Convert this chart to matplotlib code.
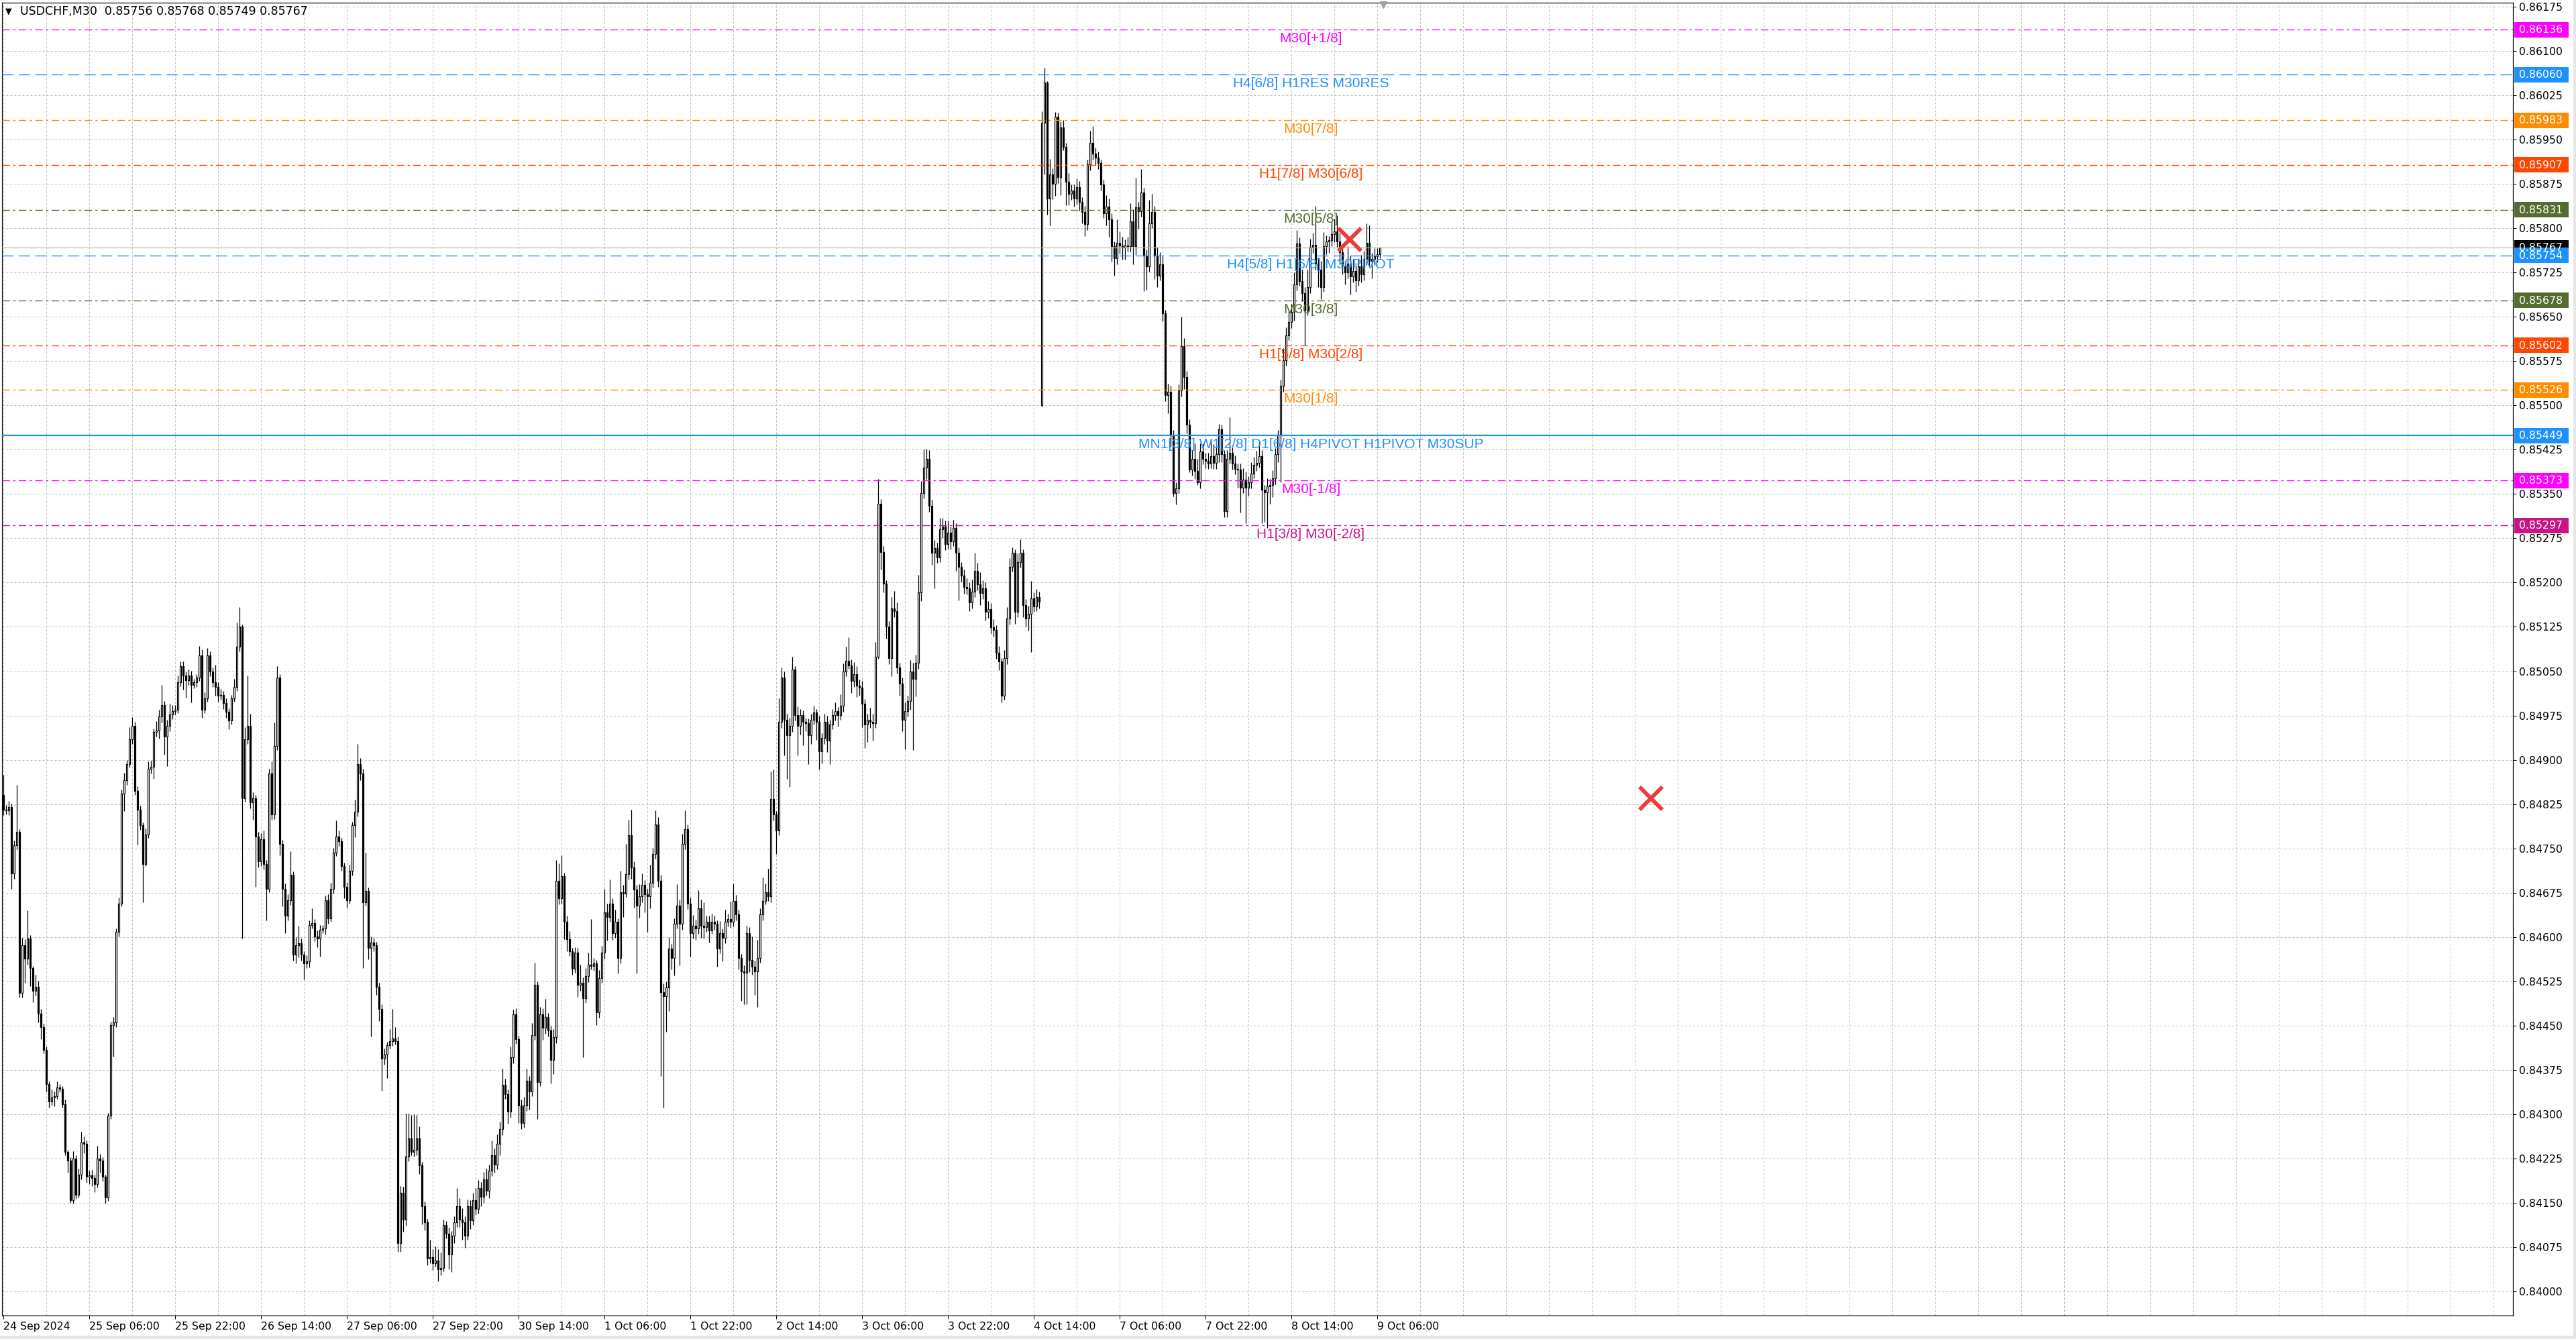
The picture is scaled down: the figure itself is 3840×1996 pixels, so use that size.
import numpy as np
import matplotlib
matplotlib.use('Agg')
import matplotlib.pyplot as plt
from matplotlib.patches import Rectangle
from matplotlib import transforms

W, H = 3840, 1996
DPI = 100
PX = 72 / DPI          # one pixel in points
PRICE_PX = 1 / 88046   # price change per pixel of height

title = 'USDCHF,M30  0.85756 0.85768 0.85749 0.85767'

# M30 candles, prices in points (1e-5); open = previous close unless a gap
first_open = 84840
gap_bars = [387]
gap_opens = [85500]
closes = [
    84816, 84814, 84820, 84708, 84755, 84778, 84505, 84586, 84563, 84597,
    84547, 84509, 84516, 84470, 84447, 84409, 84351, 84321, 84328, 84330,
    84345, 84343, 84317, 84236, 84221, 84155, 84225, 84163, 84198, 84252,
    84250, 84194, 84196, 84192, 84182, 84225, 84221, 84194, 84159, 84298,
    84451, 84455, 84609, 84657, 84843, 84866, 84893, 84935, 84958, 84847,
    84816, 84789, 84724, 84774, 84885, 84888, 84947, 84950, 84973, 84993,
    84939, 84958, 84977, 84983, 84985, 85031, 85058, 85043, 85035, 85043,
    85027, 85031, 85039, 85077, 84985, 85004, 85077, 85050, 85031, 85023,
    85008, 85010, 84996, 84981, 84966, 85004, 85023, 85092, 85125, 84835,
    84935, 84958, 84828, 84835, 84770, 84728, 84766, 84724, 84682, 84877,
    84808, 84923, 85039, 84758, 84682, 84636, 84662, 84705, 84570, 84586,
    84589, 84570, 84555, 84559, 84620, 84624, 84601, 84597, 84612, 84614,
    84662, 84632, 84682, 84743, 84770, 84762, 84720, 84685, 84662, 84712,
    84789, 84812, 84893, 84877, 84659, 84678, 84582, 84591, 84586, 84516,
    84478, 84394, 84401, 84417, 84424, 84428, 84424, 84082, 84167, 84121,
    84228, 84259, 84236, 84240, 84259, 84213, 84144, 84117, 84056, 84058,
    84048, 84052, 84037, 84040, 84113, 84098, 84063, 84094, 84117, 84144,
    84121, 84117, 84094, 84144, 84120, 84155, 84140, 84175, 84160, 84190,
    84170, 84205, 84230, 84215, 84250, 84275, 84350, 84334, 84304, 84396,
    84469, 84427, 84315, 84285, 84315, 84357, 84338, 84434, 84519, 84354,
    84469, 84446, 84465, 84442, 84392, 84430, 84695, 84665, 84703, 84626,
    84596, 84576, 84546, 84573, 84519, 84523, 84496, 84534, 84553, 84551,
    84555, 84473, 84530, 84573, 84642, 84634, 84657, 84607, 84626, 84565,
    84676, 84674, 84707, 84772, 84718, 84680, 84653, 84669, 84688, 84672,
    84669, 84692, 84741, 84791, 84695, 84507, 84500, 84515, 84580, 84565,
    84622, 84653, 84622, 84757, 84782, 84657, 84607, 84619, 84615, 84649,
    84619, 84617, 84626, 84611, 84626, 84622, 84580, 84607, 84599, 84626,
    84630, 84626, 84661, 84638, 84565, 84542, 84540, 84607, 84561, 84550,
    84542, 84565, 84638, 84661, 84676, 84669, 84834, 84807, 84780, 84964,
    85039, 84968, 84941, 84957, 85053, 84976, 84957, 84976, 84964, 84962,
    84941, 84968, 84980, 84964, 84914, 84937, 84964, 84933, 84960, 84976,
    84983, 84976, 84991, 85049, 85068, 85060, 85033, 85045, 85026, 85022,
    84995, 84960, 84968, 84964, 84962, 85075, 85333, 85252, 85198, 85125,
    85072, 85156, 85152, 85056, 85029, 84968, 84983, 84999, 85049, 85037,
    85064, 85183, 85352, 85395, 85410, 85330, 85250, 85258, 85243, 85290,
    85295, 85265, 85285, 85270, 85292, 85250, 85227, 85212, 85193, 85190,
    85166, 85185, 85220, 85197, 85182, 85190, 85150, 85155, 85124, 85120,
    85081, 85066, 85008, 85072, 85139, 85227, 85250, 85150, 85235, 85250,
    85162, 85139, 85147, 85173, 85160, 85175, 85168, 85978, 86047, 85850,
    85891, 85875, 85989, 85886, 85971, 85938, 85879, 85858, 85864, 85850,
    85870, 85844, 85828, 85807, 85908, 85945, 85926, 85920, 85910, 85874,
    85825, 85836, 85815, 85769, 85749, 85775, 85771, 85767, 85771, 85770,
    85812, 85769, 85835, 85829, 85860, 85754, 85736, 85808, 85828, 85754,
    85720, 85739, 85656, 85517, 85523, 85450, 85352, 85360, 85525, 85600,
    85548, 85467, 85391, 85410, 85389, 85370, 85422, 85410, 85406, 85402,
    85414, 85403, 85418, 85459, 85418, 85321, 85410, 85420, 85401, 85393,
    85391, 85361, 85374, 85361, 85370, 85384, 85399, 85403, 85414, 85357,
    85353, 85363, 85365, 85376, 85418, 85450, 85533, 85577, 85618, 85641,
    85658, 85705, 85774, 85710, 85690, 85660, 85700, 85768, 85772, 85740,
    85730, 85700, 85770, 85778, 85780, 85790, 85795, 85778, 85759, 85736,
    85725, 85740, 85718, 85728, 85712, 85735, 85722, 85748, 85775, 85745,
    85748, 85752, 85756, 85767,
]
# wick lengths above / below the body, in points
wick_up = [
    34, 8, 10, 6, 8, 79, 4, 12, 10, 48,
    6, 4, 20, 10, 8, 6, 6, 5, 14, 8,
    10, 6, 4, 8, 4, 6, 12, 6, 10, 18,
    10, 6, 8, 10, 6, 22, 8, 6, 4, 4,
    6, 10, 6, 10, 6, 12, 6, 20, 14, 6,
    8, 6, 5, 10, 12, 10, 6, 15, 12, 34,
    6, 10, 18, 10, 8, 12, 9, 8, 6, 10,
    8, 6, 6, 16, 10, 10, 12, 6, 6, 30,
    8, 10, 6, 8, 6, 6, 14, 40, 33, 4,
    20, 85, 20, 10, 6, 8, 10, 14, 6, 8,
    20, 40, 19, 6, 6, 8, 10, 40, 6, 14,
    30, 8, 6, 10, 8, 25, 6, 10, 8, 6,
    8, 10, 10, 8, 27, 10, 6, 6, 8, 10,
    6, 20, 34, 10, 8, 65, 6, 10, 8, 6,
    6, 8, 10, 6, 20, 50, 20, 8, 11, 10,
    73, 42, 40, 60, 40, 20, 6, 8, 6, 30,
    14, 24, 20, 26, 8, 6, 10, 8, 10, 31,
    14, 20, 10, 12, 10, 12, 20, 14, 10, 12,
    18, 10, 26, 12, 16, 12, 27, 10, 8, 18,
    8, 10, 6, 10, 14, 20, 8, 20, 38, 6,
    12, 10, 30, 6, 8, 14, 35, 30, 35, 6,
    10, 14, 6, 10, 8, 30, 8, 14, 20, 77,
    10, 6, 14, 12, 40, 14, 40, 8, 20, 6,
    36, 12, 50, 27, 44, 10, 8, 20, 20, 8,
    10, 30, 10, 23, 12, 10, 14, 10, 20, 8,
    10, 36, 10, 18, 32, 8, 10, 18, 10, 30,
    14, 40, 10, 10, 14, 10, 6, 20, 8, 20,
    10, 30, 30, 10, 8, 6, 10, 12, 10, 40,
    10, 30, 10, 40, 14, 40, 46, 50, 6, 40,
    17, 10, 10, 14, 22, 6, 14, 10, 8, 6,
    8, 10, 12, 6, 10, 8, 14, 10, 8, 10,
    14, 6, 20, 14, 24, 39, 10, 20, 14, 10,
    12, 8, 10, 20, 14, 24, 42, 8, 10, 6,
    10, 20, 30, 14, 8, 10, 14, 10, 20, 15,
    14, 30, 20, 30, 17, 14, 10, 14, 10, 20,
    14, 10, 20, 10, 14, 8, 10, 8, 10, 14,
    10, 20, 30, 14, 20, 14, 10, 14, 10, 14,
    8, 12, 6, 14, 20, 14, 10, 6, 14, 23,
    6, 10, 14, 30, 10, 14, 10, 20, 25, 2,
    26, 10, 8, 6, 10, 12, 6, 14, 10, 10,
    14, 10, 8, 10, 8, 20, 28, 10, 10, 6,
    8, 20, 14, 10, 8, 40, 20, 14, 10, 14,
    30, 20, 50, 10, 40, 8, 10, 40, 30, 10,
    14, 20, 14, 6, 14, 10, 8, 10, 10, 50,
    14, 10, 10, 14, 26, 20, 14, 14, 10, 14,
    30, 20, 14, 10, 8, 6, 14, 60, 10, 14,
    8, 10, 20, 14, 10, 20, 14, 20, 24, 10,
    8, 14, 10, 14, 10, 8, 10, 20, 14, 20,
    14, 20, 23, 10, 20, 10, 30, 14, 20, 66,
    10, 14, 23, 10, 6, 20, 21, 27, 14, 10,
    8, 30, 14, 20, 10, 14, 20, 14, 33, 30,
    10, 14, 10, 1,
]
wick_dn = [
    10, 6, 8, 26, 10, 6, 8, 8, 40, 10,
    30, 20, 8, 14, 20, 6, 12, 10, 6, 14,
    4, 6, 6, 6, 20, 5, 6, 6, 4, 8,
    16, 10, 12, 14, 14, 6, 20, 8, 10, 6,
    6, 54, 8, 8, 5, 30, 8, 6, 8, 6,
    60, 8, 65, 4, 6, 8, 20, 8, 14, 10,
    30, 50, 10, 8, 6, 6, 6, 24, 30, 8,
    30, 6, 8, 6, 14, 6, 6, 8, 8, 14,
    10, 6, 10, 10, 14, 6, 6, 6, 8, 238,
    6, 8, 10, 30, 85, 10, 8, 10, 54, 6,
    10, 8, 6, 20, 30, 30, 8, 8, 10, 15,
    20, 10, 27, 8, 10, 6, 8, 14, 30, 6,
    10, 10, 6, 8, 6, 8, 8, 20, 12, 6,
    8, 20, 8, 12, 112, 6, 20, 150, 10, 14,
    20, 54, 10, 40, 6, 8, 6, 15, 15, 20,
    10, 8, 6, 8, 10, 14, 30, 14, 12, 8,
    12, 6, 20, 10, 6, 8, 25, 30, 12, 8,
    12, 30, 20, 6, 14, 8, 10, 8, 16, 10,
    8, 12, 10, 14, 8, 20, 10, 8, 20, 10,
    10, 8, 30, 10, 8, 10, 30, 8, 8, 62,
    6, 20, 10, 10, 40, 24, 10, 10, 8, 30,
    20, 8, 10, 6, 20, 10, 100, 8, 10, 6,
    8, 22, 10, 8, 10, 40, 8, 12, 8, 27,
    10, 40, 6, 10, 20, 30, 115, 20, 10, 30,
    60, 20, 8, 8, 10, 142, 189, 60, 40, 20,
    30, 8, 70, 10, 8, 10, 40, 10, 20, 10,
    20, 20, 8, 20, 6, 10, 30, 8, 40, 10,
    8, 10, 8, 10, 20, 50, 54, 54, 20, 14,
    40, 60, 8, 10, 6, 8, 10, 10, 40, 8,
    10, 60, 73, 87, 10, 10, 50, 14, 40, 14,
    48, 14, 8, 30, 30, 20, 10, 20, 40, 8,
    10, 20, 8, 10, 8, 6, 20, 10, 20, 14,
    40, 40, 30, 10, 30, 8, 4, 30, 14, 20,
    10, 30, 10, 10, 20, 20, 50, 10, 14, 120,
    30, 10, 14, 10, 20, 10, 20, 60, 10, 8,
    14, 10, 8, 14, 8, 30, 57, 10, 12, 10,
    14, 10, 10, 10, 20, 10, 14, 10, 10, 12,
    10, 14, 11, 6, 10, 10, 8, 20, 8, 10,
    20, 14, 20, 65, 10, 8, 12, 2, 87, 27,
    45, 26, 20, 10, 30, 6, 40, 19, 10, 14,
    10, 14, 20, 21, 10, 10, 10, 14, 10, 10,
    8, 20, 30, 26, 30, 10, 14, 20, 20, 10,
    10, 30, 14, 30, 10, 60, 40, 10, 8, 40,
    20, 8, 14, 10, 30, 20, 6, 20, 8, 10,
    20, 14, 4, 10, 14, 5, 10, 10, 12, 10,
    8, 10, 10, 14, 14, 10, 10, 8, 10, 10,
    30, 42, 10, 61, 14, 10, 8, 10, 8, 57,
    50, 60, 30, 20, 10, 14, 80, 10, 10, 8,
    10, 14, 10, 8, 14, 57, 8, 10, 10, 10,
    30, 20, 8, 14, 20, 10, 14, 10, 20, 14,
    20, 10, 30, 10, 20, 10, 14, 10, 10, 10,
    30, 10, 10, 7,
]

date_labels = ['24 Sep 2024', '25 Sep 06:00', '25 Sep 22:00', '26 Sep 14:00',
               '27 Sep 06:00', '27 Sep 22:00', '30 Sep 14:00', '1 Oct 06:00',
               '1 Oct 22:00', '2 Oct 14:00', '3 Oct 06:00', '3 Oct 22:00',
               '4 Oct 14:00', '7 Oct 06:00', '7 Oct 22:00', '8 Oct 14:00',
               '9 Oct 06:00']
price_ticks = [0.86175, 0.86100, 0.86025, 0.85950, 0.85875, 0.85800, 0.85725,
               0.85650, 0.85575, 0.85500, 0.85425, 0.85350, 0.85275, 0.85200,
               0.85125, 0.85050, 0.84975, 0.84900, 0.84825, 0.84750, 0.84675,
               0.84600, 0.84525, 0.84450, 0.84375, 0.84300, 0.84225, 0.84150,
               0.84075, 0.84000]

# Murrey-math levels
levels = [0.86136, 0.86060, 0.85983, 0.85907, 0.85831, 0.85754,
          0.85678, 0.85602, 0.85526, 0.85449, 0.85373, 0.85297]
level_names = ['M30[+1/8]', 'H4[6/8] H1RES M30RES', 'M30[7/8]', 'H1[7/8] M30[6/8]',
               'M30[5/8]', 'H4[5/8] H1[6/8] M30PIVOT', 'M30[3/8]', 'H1[5/8] M30[2/8]',
               'M30[1/8]', 'MN1[3/8] W1[2/8] D1[6/8] H4PIVOT H1PIVOT M30SUP',
               'M30[-1/8]', 'H1[3/8] M30[-2/8]']
level_colors = ['#FF00FF', '#1E90FF', '#FF8C00', '#FF4500', '#556B2F', '#1E90FF',
                '#556B2F', '#FF4500', '#FF8C00', '#1E90FF', '#FF00FF', '#C71585']
level_kinds = ['dashdot', 'dashed', 'dashdot', 'dashdot', 'dashdot', 'dashed',
               'dashdot', 'dashdot', 'dashdot', 'solid', 'dashdot', 'dashdot']
last_price = 0.85767
cross_x = [501.75, 614]
cross_y = [0.85781, 0.84835]

# ---- build candles
c = np.array(closes) / 1e5
o = np.concatenate([[first_open / 1e5], c[:-1]])
for b, v in zip(gap_bars, gap_opens):
    o[b] = v / 1e5
hi = np.maximum(o, c) + np.array(wick_up) / 1e5
lo = np.minimum(o, c) - np.array(wick_dn) / 1e5
x = np.arange(len(c))

fig = plt.figure(figsize=(W / DPI, H / DPI), dpi=DPI)
fig.patch.set_facecolor('white')
ax = fig.add_axes([3 / W, 1 - 1961 / H, (3746 - 3) / W, (1961 - 4) / H])
ax.set_xlim(-0.5, 935.25)
ax.set_ylim(0.86175 - 1951 * PRICE_PX, 0.86175 + 6 * PRICE_PX)

ax.vlines(x, lo, hi, color='black', lw=1.25 * PX, zorder=3)
up = c >= o
body = np.maximum(np.abs(c - o), 0.3 * PRICE_PX)
ax.bar(x[up], body[up], bottom=o[up], width=0.55, facecolor='white',
       edgecolor='black', lw=1.2 * PX, zorder=4)
ax.bar(x[~up], body[~up], bottom=c[~up], width=0.55, facecolor='black',
       edgecolor='black', lw=1.2 * PX, zorder=4)

# grid and axes
ax.set_xticks(np.arange(0, 32 * len(date_labels), 32))
ax.set_xticklabels(date_labels, ha='left')
ax.set_xticks(np.arange(16, 936, 16), minor=True)
ax.set_yticks(price_ticks)
ax.set_yticklabels(['%.5f' % p for p in price_ticks])
ax.yaxis.tick_right()
ax.grid(which='both', color='#bcbcbc', ls=(0, (3, 3)), lw=PX, zorder=0)
ax.tick_params(axis='both', which='major', direction='out', length=5 * PX,
               width=PX, labelsize=11.3, colors='black')
ax.tick_params(axis='x', which='major', pad=3)
ax.tick_params(axis='y', which='major', pad=3)
ax.tick_params(axis='x', which='minor', length=0)
for s in ax.spines.values():
    s.set_color('black')
    s.set_linewidth(1.2 * PX)

# level lines and labels
dash_map = {'dashdot': (0, (8, 3.5, 2.5, 3.5)), 'dashed': (0, (12, 5.5)), 'solid': '-'}
ax.axhline(last_price, color='#b8b8b8', lw=1.2 * PX, zorder=5)
for p, name, col, kind in zip(levels, level_names, level_colors, level_kinds):
    lw = 2.2 * PX if kind == 'solid' else 1.4 * PX
    ax.axhline(p, color=col, ls=dash_map[kind], lw=lw, zorder=5)
    ax.text(487.25, p - 4 * PRICE_PX, name, color=col, ha='center', va='top',
            fontsize=15, family='Liberation Sans', zorder=6)

# price boxes on the right scale
blend = transforms.blended_transform_factory(fig.transFigure, ax.transData)
box_h = 23 * PRICE_PX
box_prices = [last_price] + levels
box_colors = ['black'] + level_colors
for p, col in zip(box_prices, box_colors):
    ax.add_patch(Rectangle((3748 / W, p - box_h / 2), 81 / W, box_h, transform=blend,
                           facecolor=col, edgecolor='none', clip_on=False, zorder=10))
    ax.text(3755 / W, p - 0.5 * PRICE_PX, '%.5f' % p, transform=blend, color='white',
            ha='left', va='center', fontsize=11.3, clip_on=False, zorder=11)

# markers
ax.plot(cross_x, cross_y, ls='none', marker='x', ms=24, mew=4.2, color='#ec3b3b', zorder=7)
ax.plot([514.25], [0.86175 + 3 * PRICE_PX], ls='none', marker='v', ms=7,
        color='#a0a0a0', clip_on=False, zorder=8)

fig.text(8 / W, 1 - 17 / H, '▼', fontsize=9, va='center', ha='left')
fig.text(30 / W, 1 - 17 / H, title, fontsize=12.5, va='center', ha='left')
fig.patches.append(Rectangle((0, 0), 1, 5 / H, transform=fig.transFigure,
                             facecolor='#e6e6e6', edgecolor='none'))
fig.patches.append(Rectangle((1 - 4 / W, 0), 4 / W, 1, transform=fig.transFigure,
                             facecolor='#e6e6e6', edgecolor='none'))

fig.savefig('out.png', dpi=DPI, facecolor='white')
